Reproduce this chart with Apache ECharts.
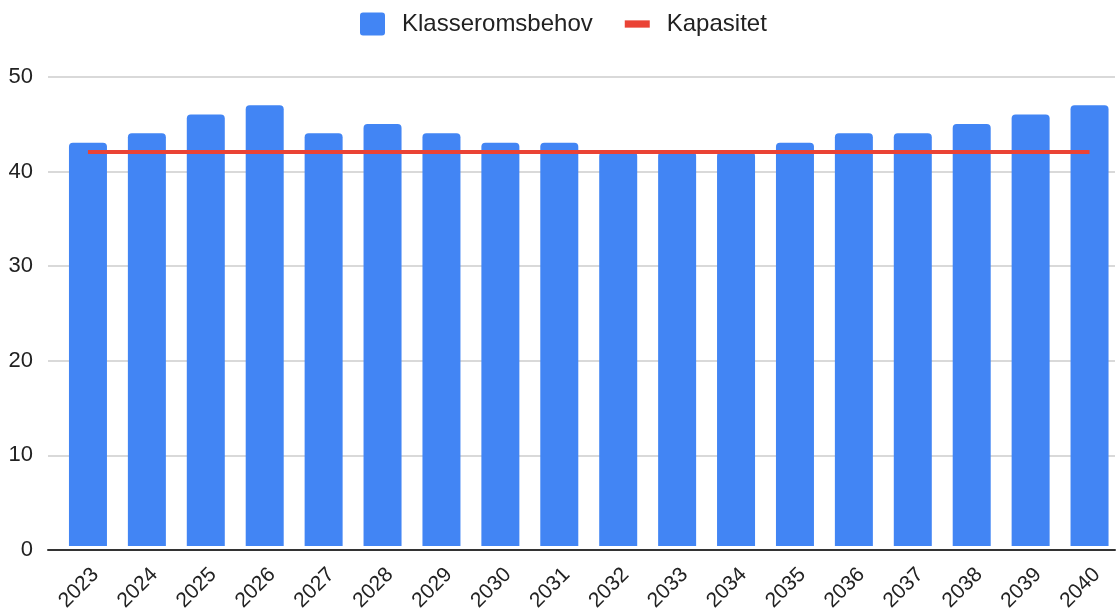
<!DOCTYPE html>
<html>
<head>
<meta charset="utf-8">
<script src="https://cdn.jsdelivr.net/npm/echarts@6/dist/echarts.min.js"></script>
<style>
  html, body { margin: 0; padding: 0; background: #fff; }
  #chart { width: 1119px; height: 614px; }
</style>
</head>
<body>
<div id="chart"></div>
<script>
const years = ["2023","2024","2025","2026","2027","2028","2029","2030","2031","2032","2033","2034","2035","2036","2037","2038","2039","2040"];
const klasseromsbehov = [43,44,46,47,44,45,44,43,43,42,42,42,43,44,44,45,46,47];
const kapasitet = [42,42,42,42,42,42,42,42,42,42,42,42,42,42,42,42,42,42];
const yTicks = { min: 0, max: 50, interval: 10 };

const font = "Liberation Sans, Arial, sans-serif";
let myChart = echarts.init(document.getElementById("chart"));

myChart.setOption({
  animation: false,
  legend: {
    top: 12,
    left: 360,
    padding: 0,
    itemWidth: 25,
    itemHeight: 23,
    itemGap: 32,
    textStyle: { fontFamily: font, fontSize: 24, color: "#222", padding: [0, 0, 0, 12] },
    data: [
      { name: "Klasseromsbehov", icon: "path://M3,0h19a3,3 0 0 1 3,3v17a3,3 0 0 1 -3,3h-19a3,3 0 0 1 -3,-3v-17a3,3 0 0 1 3,-3z" },
      { name: "Kapasitet", icon: "path://M0,0h24v7h-24z" }
    ]
  },
  grid: [
    { left: 48, right: 4, top: 77, bottom: 64 },
    { left: 58.5, right: -3.6, top: 77, bottom: 64 }
  ],
  xAxis: [
    {
      gridIndex: 0,
      type: "category",
      data: years,
      axisTick: { show: false },
      axisLabel: { show: false },
      axisLine: { lineStyle: { color: "#333", width: 2 } }
    },
    {
      gridIndex: 1,
      type: "category",
      data: years,
      axisTick: { show: false },
      axisLine: { show: false },
      axisLabel: {
        rotate: 45,
        interval: 0,
        margin: 18,
        verticalAlign: "top",
        fontFamily: font,
        fontSize: 21,
        color: "#222"
      }
    }
  ],
  yAxis: [
    {
      gridIndex: 0,
      type: "value",
      min: yTicks.min,
      max: yTicks.max,
      interval: yTicks.interval,
      axisLine: { show: false },
      axisTick: { show: false },
      axisLabel: { margin: 15, fontFamily: font, fontSize: 22, color: "#222" },
      splitLine: { lineStyle: { color: "#ccc", width: 1.5 } }
    },
    {
      gridIndex: 1,
      type: "value",
      min: yTicks.min,
      max: yTicks.max,
      interval: yTicks.interval,
      show: false,
      splitLine: { show: false }
    }
  ],
  series: [
    {
      name: "Klasseromsbehov",
      type: "bar",
      xAxisIndex: 1,
      yAxisIndex: 1,
      data: klasseromsbehov,
      barWidth: 38,
      itemStyle: { color: "#4285F4", borderRadius: [4, 4, 0, 0] }
    },
    {
      name: "Kapasitet",
      type: "line",
      xAxisIndex: 1,
      yAxisIndex: 1,
      data: kapasitet,
      symbol: "none",
      z: 5,
      itemStyle: { color: "#EA4335" },
      lineStyle: { color: "#EA4335", width: 4 }
    }
  ]
});
</script>
</body>
</html>
